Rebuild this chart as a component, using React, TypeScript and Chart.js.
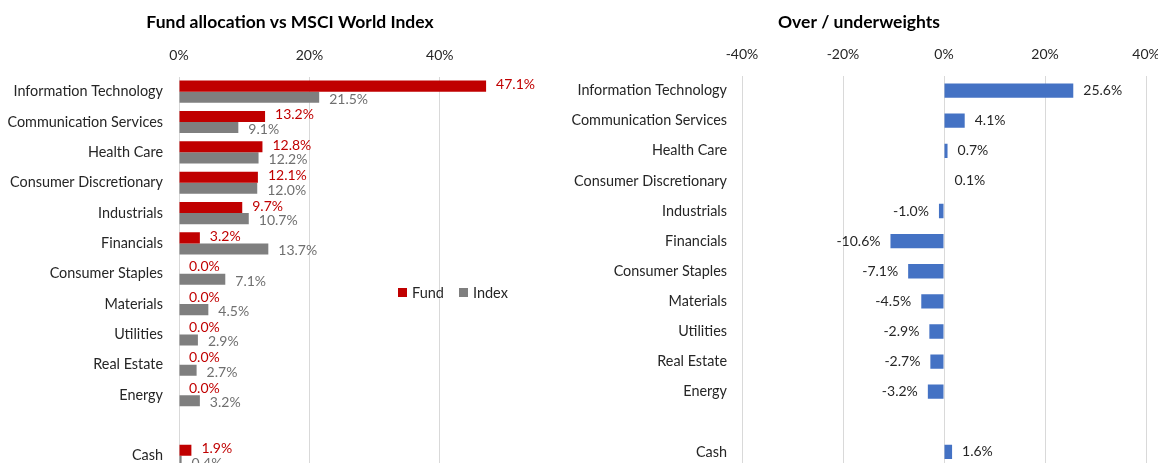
import React, { useEffect, useRef } from 'react';
import { Chart, registerables } from 'chart.js';

Chart.register(...registerables);

// ---------- data ----------
const categories = [
  'Information Technology',
  'Communication Services',
  'Health Care',
  'Consumer Discretionary',
  'Industrials',
  'Financials',
  'Consumer Staples',
  'Materials',
  'Utilities',
  'Real Estate',
  'Energy',
  '',
  'Cash',
];
const fundValues = [47.1, 13.2, 12.8, 12.1, 9.7, 3.2, 0, 0, 0, 0, 0, null, 1.9];
const indexValues = [21.5, 9.1, 12.2, 12.0, 10.7, 13.7, 7.1, 4.5, 2.9, 2.7, 3.2, null, 0.4];
const diffValues = [25.6, 4.1, 0.7, 0.1, -1.0, -10.6, -7.1, -4.5, -2.9, -2.7, -3.2, null, 1.6];
const leftTicks = [0, 20, 40];
const rightTicks = [-40, -20, 0, 20, 40];

const FONT = 'Lato';
const TEXT = '#262626';
const GRID = '#d9d9d9';
const RED = '#C00000';
const GREY = '#7F7F7F';
const BLUE = '#4472C4';

const fmt = (v: number) => v.toFixed(1) + '%';

const valueLabels = {
  id: 'valueLabels',
  afterDatasetsDraw(chart: any) {
    const ctx = chart.ctx;
    chart.data.datasets.forEach((ds: any, i: number) => {
      const meta = chart.getDatasetMeta(i);
      const dy = ds.labelDy || 0;
      meta.data.forEach((el: any, j: number) => {
        const v = ds.data[j];
        if (v == null) return;
        const { x, y, base } = el.getProps(['x', 'y', 'base'], true);
        ctx.save();
        ctx.font = `14px ${FONT}`;
        ctx.fillStyle = ds.labelColor;
        ctx.textBaseline = 'middle';
        if (v >= 0) {
          ctx.textAlign = 'left';
          ctx.fillText(fmt(v), Math.max(x, base) + 10, y + dy);
        } else {
          ctx.textAlign = 'right';
          ctx.fillText(fmt(v), Math.min(x, base) - 10, y + dy);
        }
        ctx.restore();
      });
    });
  },
};

const noPad = (s: any) => {
  s.paddingLeft = 0;
  s.paddingRight = 0;
  s.paddingTop = 0;
  s.paddingBottom = 0;
};

function makeTitle(text: string) {
  return {
    display: true,
    text,
    color: '#000',
    font: { family: FONT, size: 17.5, weight: 'bold' as const },
    padding: { top: 12, bottom: 0 },
  };
}

export default function App() {
  const leftRef = useRef<HTMLCanvasElement>(null);
  const rightRef = useRef<HTMLCanvasElement>(null);

  useEffect(() => {
    Chart.defaults.font.family = FONT;
    const left = new Chart(leftRef.current!, {
      type: 'bar',
      data: {
        labels: categories,
        datasets: [
          { label: 'Fund', data: fundValues, backgroundColor: RED, labelColor: RED, labelDy: -1.5 } as any,
          { label: 'Index', data: indexValues, backgroundColor: GREY, labelColor: '#6F6F6F', labelDy: 2 } as any,
        ],
      },
      options: {
        indexAxis: 'y',
        animation: false,
        responsive: false,
        maintainAspectRatio: false,
        layout: { padding: 0 },
        datasets: { bar: { categoryPercentage: 0.73, barPercentage: 1 } },
        plugins: {
          legend: { display: false },
          tooltip: { enabled: false },
          title: makeTitle('Fund allocation vs MSCI World Index'),
        },
        scales: {
          x: {
            position: 'top',
            min: 0,
            max: 50,
            afterBuildTicks: (s: any) => { s.ticks = leftTicks.map((v) => ({ value: v })); },
            afterFit: (s: any) => { noPad(s); s.height = 76.5 - 33; },
            ticks: { color: TEXT, font: { size: 14 }, padding: 13, callback: (v: any) => v + '%' },
            grid: { color: GRID, drawTicks: false },
            border: { display: false },
          },
          y: {
            afterFit: (s: any) => { noPad(s); s.width = 179; },
            ticks: { color: TEXT, font: { size: 14.4 }, padding: 16, autoSkip: false },
            grid: { display: false, drawTicks: false },
            border: { display: false },
          },
          yR: {
            axis: 'y',
            type: 'linear',
            position: 'right',
            display: true,
            afterFit: (s: any) => { noPad(s); s.width = 75; },
            ticks: { display: false },
            grid: { display: false, drawTicks: false },
            border: { display: false },
          },
        } as any,
      },
      plugins: [valueLabels],
    });

    const right = new Chart(rightRef.current!, {
      type: 'bar',
      data: {
        labels: categories,
        datasets: [
          { label: 'Over / underweight', data: diffValues, backgroundColor: BLUE, labelColor: TEXT } as any,
        ],
      },
      options: {
        indexAxis: 'y',
        animation: false,
        responsive: false,
        maintainAspectRatio: false,
        layout: { padding: 0 },
        datasets: { bar: { categoryPercentage: 1, barPercentage: 0.475 } },
        plugins: {
          legend: { display: false },
          tooltip: { enabled: false },
          title: makeTitle('Over / underweights'),
        },
        scales: {
          x: {
            position: 'top',
            min: -40,
            max: 40,
            afterBuildTicks: (s: any) => { s.ticks = rightTicks.map((v) => ({ value: v })); },
            afterFit: (s: any) => { noPad(s); s.height = 75.5 - 33; },
            ticks: { color: TEXT, font: { size: 14 }, padding: 13, callback: (v: any) => v + '%' },
            grid: { color: GRID, drawTicks: false },
            border: { display: false },
          },
          y: {
            afterFit: (s: any) => { noPad(s); s.width = 182; },
            ticks: { color: TEXT, font: { size: 14.4 }, padding: 15, autoSkip: false },
            grid: { display: false, drawTicks: false },
            border: { display: false },
          },
          yR: {
            axis: 'y',
            type: 'linear',
            position: 'right',
            display: true,
            afterFit: (s: any) => { noPad(s); s.width = 12; },
            ticks: { display: false },
            grid: { display: false, drawTicks: false },
            border: { display: false },
          },
        } as any,
      },
      plugins: [valueLabels],
    });

    return () => {
      left.destroy();
      right.destroy();
    };
  }, []);

  const legendItem = (color: string, text: string) => (
    <span style={{ display: 'inline-flex', alignItems: 'center', marginRight: 15 }}>
      <span style={{ width: 9, height: 9, background: color, display: 'inline-block', marginRight: 5 }} />
      <span>{text}</span>
    </span>
  );

  return (
    <div
      style={{
        position: 'fixed',
        left: 0,
        top: 0,
        width: 1158,
        height: 463,
        overflow: 'hidden',
        background: '#fff',
      }}
    >
      <canvas
        ref={leftRef}
        width={580}
        height={471}
        style={{ position: 'absolute', left: 0, top: 0, width: 580, height: 471 }}
      />
      <canvas
        ref={rightRef}
        width={598}
        height={467}
        style={{ position: 'absolute', left: 560, top: 0, width: 598, height: 467 }}
      />
      <div
        style={{
          position: 'absolute',
          left: 398,
          top: 283,
          fontFamily: FONT,
          fontSize: 14.5,
          color: TEXT,
          lineHeight: '18px',
          whiteSpace: 'nowrap',
        }}
      >
        {legendItem(RED, 'Fund')}
        {legendItem(GREY, 'Index')}
      </div>
    </div>
  );
}
